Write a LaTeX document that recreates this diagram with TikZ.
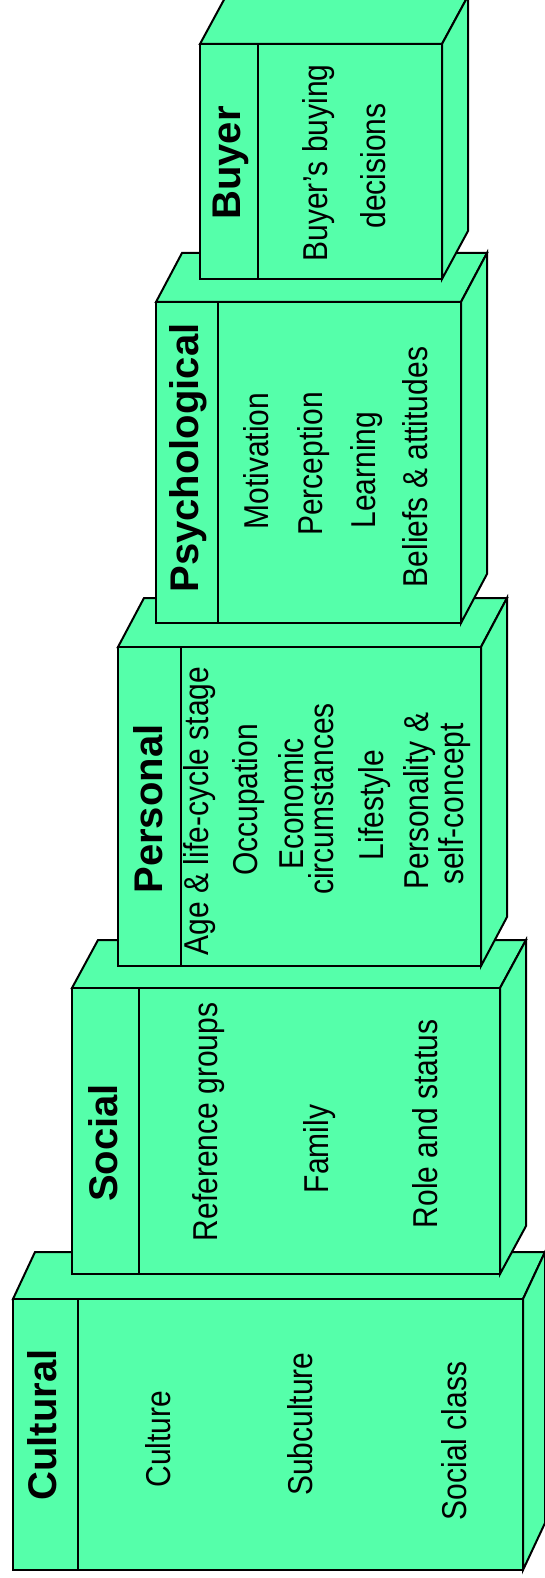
\documentclass[tikz,border=0pt]{standalone}
\usepackage{fontspec}
\setmainfont{Liberation Sans}
\usepackage{graphicx}
\definecolor{boxfill}{RGB}{85,255,170}
\tikzset{
  boxface/.style={fill=boxfill, draw=black, line width=2pt, line join=miter},
  boxfront/.style={fill=boxfill, draw=black, line width=2.8pt},
  boxdiv/.style={draw=black, line width=2pt},
  titletext/.style={rotate=90, anchor=base, inner sep=0pt, font=\fontsize{40}{46}\selectfont\bfseries},
  itemtext/.style={rotate=90, anchor=base, inner sep=0pt, font=\fontsize{30}{34}\selectfont},
}
\newcommand{\stretchtxt}[1]{\scalebox{1}[1.15]{#1}}
% #1 L, #2 R, #3 T, #4 B, #5 divider x, #6 dx, #7 dy
\newcommand{\factorbox}[7]{%
  \filldraw[boxface] (#1,#3) -- (#1+#6,#3+#7) -- (#2+#6,#3+#7) -- (#2,#3) -- cycle;
  \filldraw[boxface] (#2,#3) -- (#2+#6,#3+#7) -- (#2+#6,#4+#7) -- (#2,#4) -- cycle;
  \filldraw[boxfront] (#1,#3) rectangle (#2,#4);
  \draw[boxdiv] (#5,#3) -- (#5,#4);
}
\begin{document}
\begin{tikzpicture}[x=1pt,y=-1pt]
\fill[white] (0,0) rectangle (545,1578);
\useasboundingbox (0,0) rectangle (545,1578);

% Cultural
\factorbox{13}{523}{1299}{1570}{78}{22}{-47}
\node[titletext] (cultural) at (56,1425) {Cultural};
\node[itemtext] (culture) at (170,1439) {\stretchtxt{Culture}};
\node[itemtext] (subculture) at (312,1424) {\stretchtxt{Subculture}};
\node[itemtext] (socialclass) at (466,1441) {\stretchtxt{Social class}};

% Social
\factorbox{72}{500}{988}{1274}{139}{26}{-48}
\node[titletext] (social) at (117,1143) {Social};
\node[itemtext] (refgroups) at (217,1122) {\stretchtxt{Reference groups}};
\node[itemtext] (family) at (328,1149) {\stretchtxt{Family}};
\node[itemtext] (role) at (437,1124) {\stretchtxt{Role and status}};

% Personal
\factorbox{118}{481}{647}{966}{181}{26}{-49}
\node[titletext] (personal) at (162,809) {Personal};
\node[itemtext] (age) at (208,811) {\stretchtxt{Age \& life-cycle stage}};
\node[itemtext] (occupation) at (257,800) {\stretchtxt{Occupation}};
\node[itemtext] (economic) at (303,804) {\stretchtxt{Economic}};
\node[itemtext] (circum) at (333,799) {\stretchtxt{circumstances}};
\node[itemtext] (lifestyle) at (383,805) {\stretchtxt{Lifestyle}};
\node[itemtext] (personality) at (428,801) {\stretchtxt{Personality \&}};
\node[itemtext] (selfconcept) at (463,804) {\stretchtxt{self-concept}};

% Psychological
\factorbox{156}{461}{302}{623}{218}{26}{-49}
\node[titletext] (psych) at (198,458) {Psychological};
\node[itemtext] (motivation) at (268,461) {\stretchtxt{Motivation}};
\node[itemtext] (perception) at (322,464) {\stretchtxt{Perception}};
\node[itemtext] (learning) at (375,470) {\stretchtxt{Learning}};
\node[itemtext] (beliefs) at (427,467) {\stretchtxt{Beliefs \& attitudes}};

% Buyer
\factorbox{200}{442}{44}{279}{258}{26}{-48}
\node[titletext] (buyer) at (240,163) {Buyer};
\node[itemtext] (buying) at (327,163) {\stretchtxt{Buyer's buying}};
\node[itemtext] (decisions) at (385,166) {\stretchtxt{decisions}};
\end{tikzpicture}
\end{document}
